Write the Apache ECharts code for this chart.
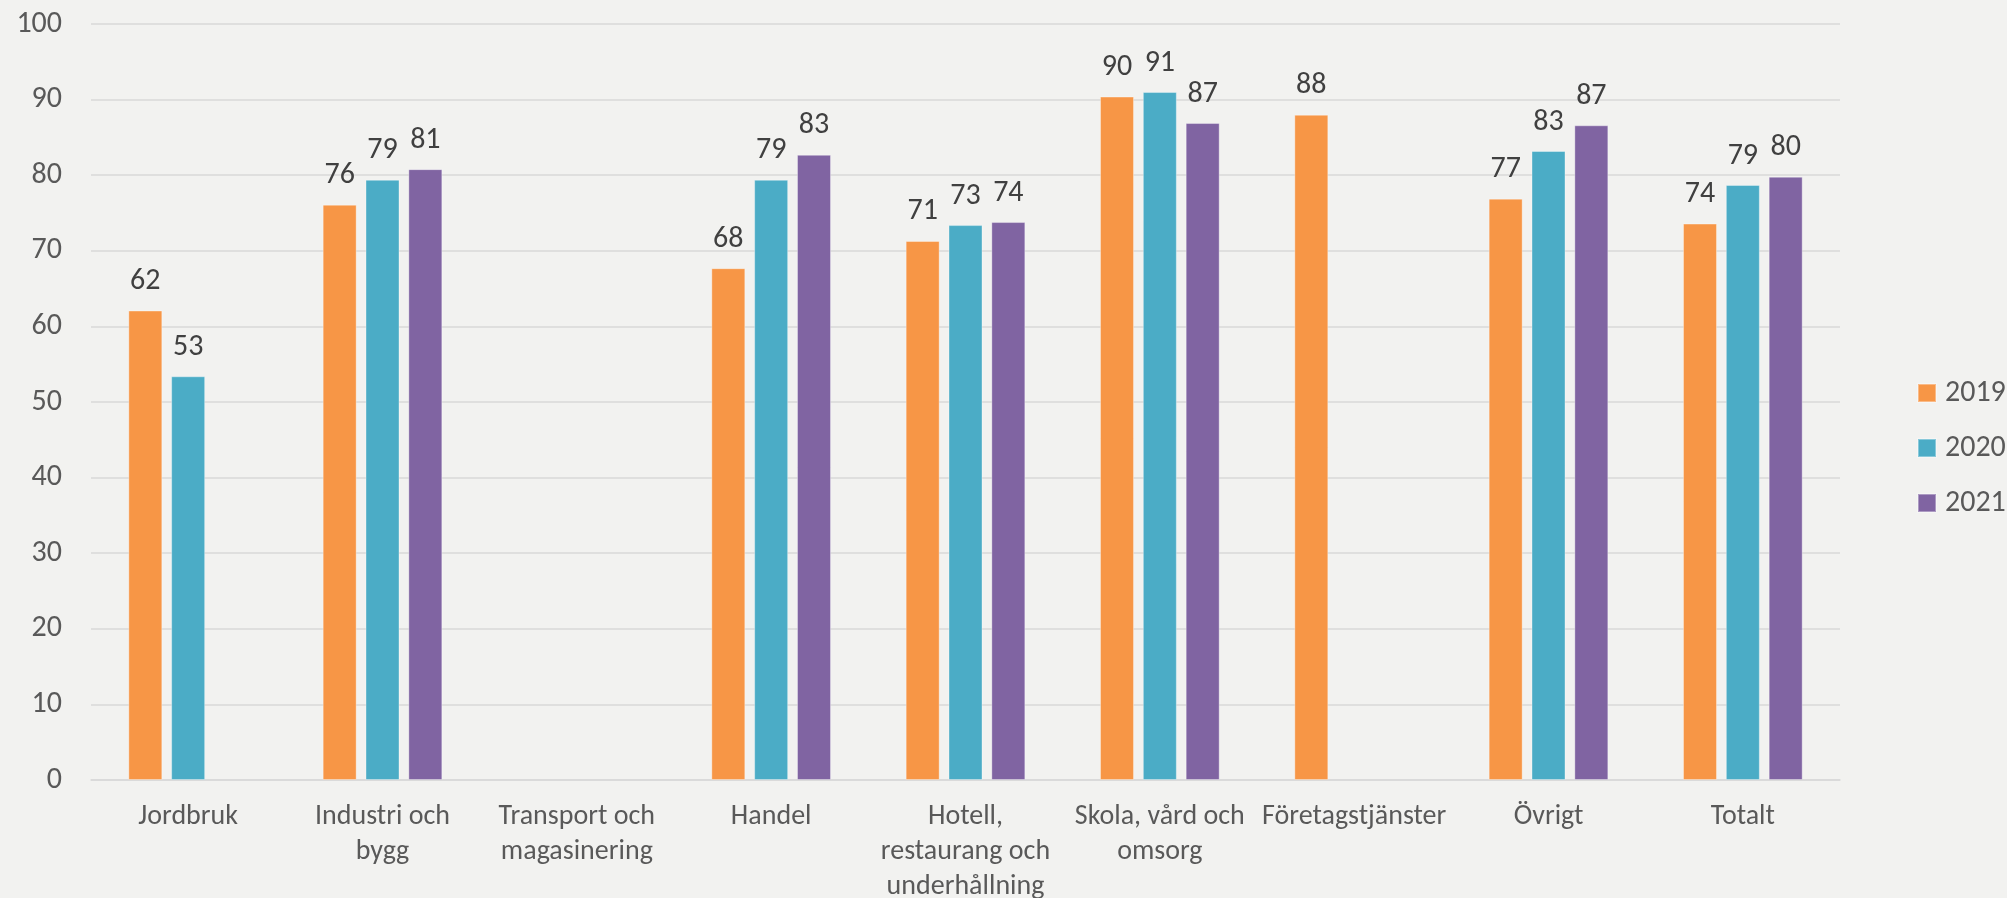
<!DOCTYPE html>
<html>
<head>
<meta charset="utf-8">
<script src="https://cdn.jsdelivr.net/npm/echarts@6/dist/echarts.min.js"></script>
<style>
html,body{margin:0;padding:0;background:#f2f2f0;}
#c{width:2007px;height:898px;}
</style>
</head>
<body>
<div id="c"></div>
<script>
const categories = ["Jordbruk", "Industri och\nbygg", "Transport och\nmagasinering", "Handel", "Hotell,\nrestaurang och\nunderhållning", "Skola, vård och\nomsorg", "Företagstjänster", "Övrigt", "Totalt"];
const seriesNames = ["2019", "2020", "2021"];
const values2019 = [62.1, 76.1, null, 67.7, 71.3, 90.4, 88.0, 76.9, 73.6];
const values2020 = [53.4, 79.4, null, 79.4, 73.4, 91.0, null, 83.2, 78.7];
const values2021 = [null, 80.8, null, 82.7, 73.8, 86.9, null, 86.6, 79.8];
const yTicks = [0, 10, 20, 30, 40, 50, 60, 70, 80, 90, 100];

const colors = ["#F79646", "#4BACC6", "#8064A2"];
const FONT = 'Carlito, Calibri, "Open Sans", sans-serif';

const chart = echarts.init(document.getElementById('c'));
const allValues = [values2019, values2020, values2021];

chart.setOption({
  backgroundColor: '#f2f2f0',
  animation: false,
  textStyle: { fontFamily: FONT },
  grid: { left: 91, right: 167, top: 24, bottom: 118, containLabel: false, outerBoundsMode: 'none' },
  legend: {
    orient: 'vertical',
    left: 1912,
    top: 372,
    itemWidth: 18,
    itemHeight: 18,
    itemGap: 23,
    icon: 'rect',
    data: seriesNames,
    textStyle: { fontFamily: FONT, fontSize: 30, color: '#595959', lineHeight: 32, padding: [0, 0, 0, 4] }
  },
  xAxis: {
    type: 'category',
    data: categories,
    axisLine: { show: true, lineStyle: { color: '#D9D9D9', width: 1.5 } },
    axisTick: { show: false },
    axisLabel: {
      interval: 0,
      margin: 19,
      fontFamily: FONT,
      fontSize: 28,
      lineHeight: 35,
      color: '#595959',
      verticalAlign: 'top'
    }
  },
  yAxis: {
    type: 'value',
    min: yTicks[0],
    max: yTicks[yTicks.length - 1],
    interval: 10,
    axisLine: { show: false },
    axisTick: { show: false },
    splitLine: { lineStyle: { color: '#D9D9D9', width: 1.5 } },
    axisLabel: { margin: 29, fontFamily: FONT, fontSize: 30, color: '#595959' }
  },
  series: seriesNames.map((name, i) => ({
    name: name,
    type: 'bar',
    data: allValues[i],
    barWidth: 34,
    barGap: '26%',
    itemStyle: { color: colors[i], borderColor: 'rgba(255,255,255,0.35)', borderWidth: 1 },
    label: {
      show: true,
      position: 'top',
      distance: 14,
      fontFamily: FONT,
      fontSize: 30,
      lineHeight: 30,
      color: '#404040',
      formatter: p => (p.value == null ? '' : Math.round(p.value))
    }
  }))
});
</script>
</body>
</html>
